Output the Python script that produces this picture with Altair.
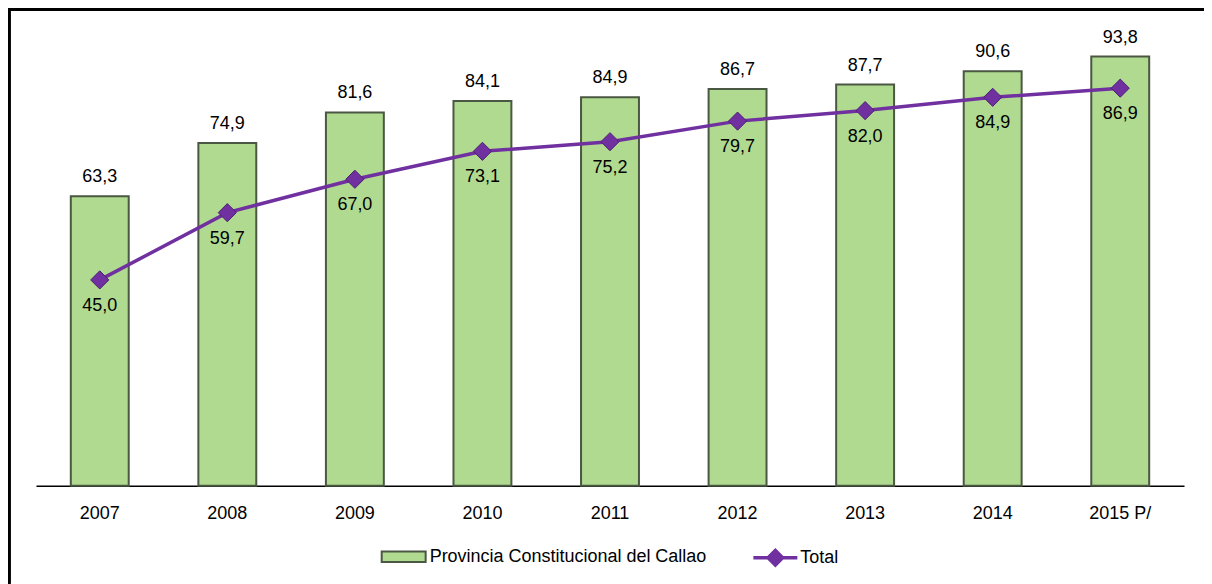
import altair as alt
import pandas as pd

years = ["2007", "2008", "2009", "2010", "2011", "2012", "2013", "2014", "2015 P/"]
callao = [63.3, 74.9, 81.6, 84.1, 84.9, 86.7, 87.7, 90.6, 93.8]
total = [45.0, 59.7, 67.0, 73.1, 75.2, 79.7, 82.0, 84.9, 86.9]
bar_series = "Provincia Constitucional del Callao"
line_series = "Total"

df = pd.DataFrame({
    "year": years,
    "callao": callao,
    "total": total,
    "s_bar": [bar_series] * len(years),
    "s_line": [line_series] * len(years),
})

FONT = "Liberation Sans"
FS = 18
W, H = 1149, 458

x = alt.X("year:N", sort=years,
          scale=alt.Scale(paddingInner=0.546, paddingOuter=0.273),
          axis=alt.Axis(title=None, labelAngle=0, ticks=False, domainColor="#000000",
                        domainWidth=1.5, labelFontSize=FS, labelFont=FONT,
                        labelColor="#000000", labelPadding=19))
yscale = alt.Scale(domain=[0, 100])

base = alt.Chart(df)

bar_path = "M-1,-0.24H1V0.24H-1Z"
line_path = "M-1,0H1M-0.33,0L0,-0.33L0.33,0L0,0.33Z"

bars = base.mark_bar(stroke="#4a5742", strokeWidth=2).encode(
    x=x,
    y=alt.Y("callao:Q", scale=yscale, axis=None),
    fill=alt.Fill("s_bar:N", scale=alt.Scale(range=["#b1da91"]),
                  legend=alt.Legend(title=None, orient="none", legendX=345, legendY=506,
                                    symbolType=bar_path, symbolSize=1936,
                                    symbolStrokeColor="#4a5742", symbolStrokeWidth=2,
                                    labelFontSize=FS, labelFont=FONT, labelColor="#000000",
                                    labelOffset=3, labelLimit=0, padding=0)),
)

bar_text = base.transform_calculate(
    lab="replace(format(datum.callao, '.1f'), '.', ',')"
).mark_text(baseline="bottom", dy=-10, fontSize=FS, font=FONT, color="#000000").encode(
    x=alt.X("year:N", sort=years), y=alt.Y("callao:Q", scale=yscale), text="lab:N"
)

line = base.mark_line(color="#7030a0", strokeWidth=3.5).encode(
    x=alt.X("year:N", sort=years), y=alt.Y("total:Q", scale=yscale)
)

points = base.mark_point(shape="diamond", filled=True, size=330, opacity=1,
                         stroke="#4b1f70", strokeWidth=1).encode(
    x=alt.X("year:N", sort=years), y=alt.Y("total:Q", scale=yscale),
    color=alt.Color("s_line:N", scale=alt.Scale(range=["#7030a0"]),
                    legend=alt.Legend(title=None, orient="none", legendX=716, legendY=506,
                                      symbolType=line_path, symbolSize=1936,
                                      symbolFillColor="#7030a0", symbolStrokeColor="#7030a0",
                                      symbolStrokeWidth=3.5,
                                      labelFontSize=FS, labelFont=FONT, labelColor="#000000",
                                      labelOffset=1, labelLimit=0, padding=0)),
)

line_text = base.transform_calculate(
    lab="replace(format(datum.total, '.1f'), '.', ',')"
).mark_text(baseline="middle", dy=26, fontSize=FS, font=FONT, color="#000000").encode(
    x=alt.X("year:N", sort=years), y=alt.Y("total:Q", scale=yscale), text="lab:N"
)

frame_left = base.mark_rule(color="#000000", strokeWidth=2.5).encode(
    x=alt.value(-27), y=alt.value(-20), y2=alt.value(H + 98)
)
frame_top = base.mark_rule(color="#000000", strokeWidth=2.5).encode(
    x=alt.value(-28), x2=alt.value(W + 20), y=alt.value(-19)
)

chart = alt.layer(bars, bar_text, line, points, line_text, frame_left, frame_top).properties(
    width=W, height=H,
    padding={"left": 28, "top": 20, "right": 20, "bottom": 98},
    autosize=alt.AutoSizeParams(type="none"),
).configure_view(stroke=None).resolve_legend(fill="independent", color="independent")

chart.save("out.html", embed_options={"renderer": "svg", "actions": False})
